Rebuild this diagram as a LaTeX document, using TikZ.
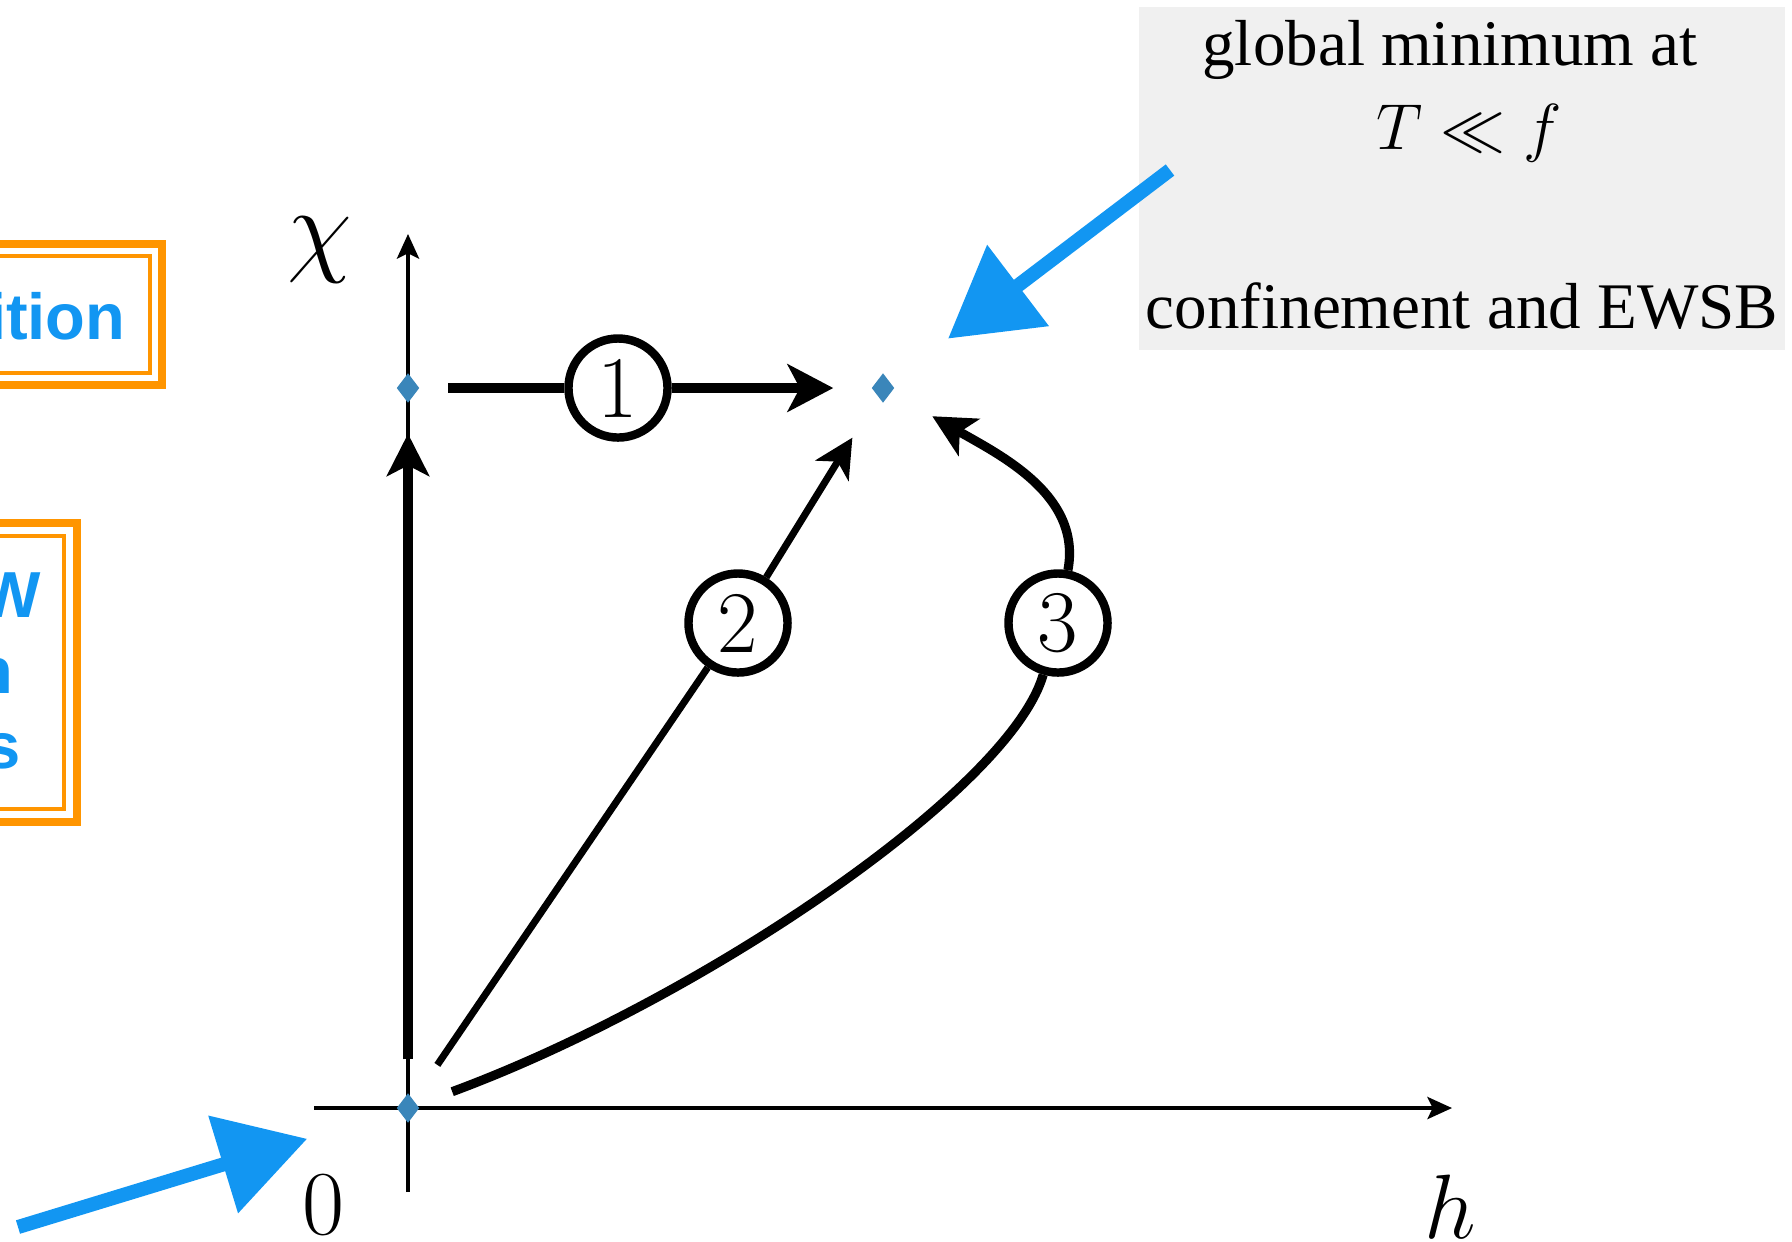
\RequirePackage{fix-cm}
\documentclass[tikz,border=0pt]{standalone}
\usepackage{fontspec}
\newfontfamily\notefont{Liberation Serif}
\newfontfamily\tagfont{Liberation Sans}
\usetikzlibrary{arrows.meta, positioning, shapes.geometric}
\definecolor{sketchblue}{HTML}{1296F2}
\definecolor{tagorange}{HTML}{FF9500}
\definecolor{dotblue}{HTML}{3A86BA}
\definecolor{notegray}{HTML}{F0F0F0}

\begin{document}
\begin{tikzpicture}[
  x=0.01cm, y=-0.01cm,
  axis/.style={line width=1pt, -{Stealth[length=7pt, width=6.3pt, inset=1.5pt]}},
  flow/.style={line width=2.6pt, -{Stealth[length=12pt, width=12pt, inset=3pt]}},
  dot/.style={diamond, fill=dotblue, inner sep=0pt, minimum width=0.23cm, minimum height=0.3cm},
  num/.style={circle, draw, line width=2.4pt, fill=white, minimum size=0.99cm, inner sep=0pt, font=\fontsize{25}{30}\selectfont},
  lbl/.style={inner sep=0pt, font=\fontsize{26}{31}\selectfont},
  note/.style={inner sep=0pt, font=\notefont\fontsize{18.5}{22}\selectfont},
  tag/.style={inner sep=0pt, text=sketchblue, font=\tagfont\bfseries\fontsize{18.5}{22}\selectfont},
  tagouter/.style={draw=tagorange, line width=2.3pt},
  taginner/.style={draw=tagorange, line width=1.3pt},
  pointer/.style={draw=sketchblue, line width=4pt, -{Triangle[length=25pt, width=28pt]}}
]
\clip (0,0) rectangle (1792,1241);

% Note box
\fill[notegray] (1139,7) rectangle (1785,350);
\node[note, anchor=base] (glob) at (1450,65) {global minimum at};
\node[note, anchor=base] (cond) at (1469,149) {$T\ll f$};
\node[note, anchor=base] (conf) at (1462,328) {confinement and EWSB};

% Cut-off tags on the left
\draw[tagouter] (-40,244) rectangle (162,385);
\draw[taginner] (-40,256) rectangle (150,373);
\node[tag, anchor=base east] (trans) at (126,339) {ition};
\draw[tagouter] (-40,523) rectangle (77,822);
\draw[taginner] (-40,536) rectangle (64,809);
\node[tag, anchor=base east] (tagw) at (42,617) {W};
\node[tag, anchor=base east] (tagn) at (14,693) {n};
\node[tag, anchor=base east] (tags) at (21,768) {s};

% Axes
\coordinate (hmin) at (314,1108);
\coordinate (hmax) at (1452,1108);
\coordinate (cmin) at (408,1192);
\coordinate (cmax) at (408,234);
\draw[axis] (hmin) -- (hmax);
\draw[axis] (cmin) -- (cmax);
\node[lbl, anchor=base, font=\fontsize{30}{36}\selectfont] (chi) at (320,262) {$\chi$};
\node[lbl, anchor=base] (zero) at (323,1234) {0};
\node[lbl, anchor=base] (hlab) at (1450,1238) {$h$};

% Minima
\node[dot] (o) at (408,1108) {};
\node[dot] (ya) at (408,388) {};
\node[dot] (gm) at (883,388) {};

% Paths
\node[num] (c1) at (618,388) {1};
\node[num] (c2) at (738,623) {2};
\node[num] (c3) at (1058,623) {3};

\draw[flow, shorten <=0.33cm, shorten >=0.30cm] (o) -- (ya);
\draw[flow, -, line width=3.1pt, shorten <=0.28cm] (ya) -- (c1);
\draw[flow, line width=3.1pt, -{Stealth[length=13pt, width=13.5pt, inset=3.5pt]}, shorten >=0.375cm] (c1) -- (gm);
\draw[flow, -, line width=2pt, shorten <=0.42cm] (o) -- (c2);
\draw[flow, line width=2pt, -{Stealth[length=11pt, width=11pt, inset=3pt]}, shorten >=0.48cm] (c2) -- (gm);
\draw[flow, -, shorten <=0.37cm] (o) .. controls (700,1000) and (1010,790) .. (c3);
\draw[flow, shorten >=0.47cm] (c3) .. controls (1082,495) and (1000,455) .. (gm);

% Pointers
\coordinate (notetail) at (1170,170);
\coordinate (zerotail) at (18,1227);
\draw[pointer, shorten >=0.72cm] (notetail) -- (gm);
\draw[pointer, shorten >=0.95cm] (zerotail) -- (o);

\end{tikzpicture}
\end{document}
